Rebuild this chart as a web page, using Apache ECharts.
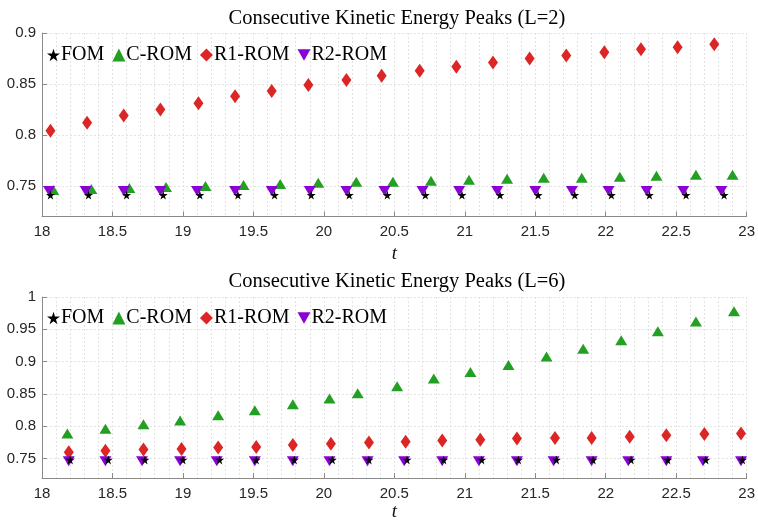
<!DOCTYPE html>
<html>
<head>
<meta charset="utf-8">
<script src="https://cdn.jsdelivr.net/npm/echarts@6/dist/echarts.min.js"></script>
<style>html,body{margin:0;padding:0;background:#fff;}#c{width:758px;height:525px;}</style>
</head>
<body>
<div id="c"></div>
<script>
// ---------- data ----------
const seriesNames = ['FOM', 'C-ROM', 'R1-ROM', 'R2-ROM'];
const xTickLabels = [18, 18.5, 19, 19.5, 20, 20.5, 21, 21.5, 22, 22.5, 23];
const yTicksTop = [0.75, 0.8, 0.85, 0.9];
const yTicksBottom = [0.75, 0.8, 0.85, 0.9, 0.95, 1];

// Top plot (L=2)
const fomTopX = [18.06, 18.33, 18.60, 18.86, 19.12, 19.39, 19.65, 19.91, 20.18, 20.45, 20.72, 20.98, 21.25, 21.52, 21.78, 22.04, 22.31, 22.57, 22.84];
const fomTopY = [0.741, 0.741, 0.741, 0.741, 0.741, 0.741, 0.741, 0.741, 0.741, 0.741, 0.741, 0.741, 0.741, 0.741, 0.741, 0.741, 0.741, 0.741, 0.741];
const cTopX = [18.08, 18.35, 18.62, 18.88, 19.16, 19.43, 19.69, 19.96, 20.23, 20.49, 20.76, 21.03, 21.30, 21.56, 21.83, 22.10, 22.36, 22.64, 22.90];
const cTopY = [0.746, 0.747, 0.748, 0.749, 0.750, 0.751, 0.752, 0.753, 0.754, 0.754, 0.755, 0.756, 0.757, 0.758, 0.758, 0.759, 0.760, 0.761, 0.761];
const r1TopX = [18.06, 18.32, 18.58, 18.84, 19.11, 19.37, 19.63, 19.89, 20.16, 20.41, 20.68, 20.94, 21.20, 21.46, 21.72, 21.99, 22.25, 22.51, 22.77];
const r1TopY = [0.804, 0.812, 0.819, 0.825, 0.831, 0.838, 0.843, 0.849, 0.854, 0.858, 0.863, 0.867, 0.871, 0.875, 0.878, 0.881, 0.884, 0.886, 0.889];
const r2TopX = [18.05, 18.31, 18.58, 18.84, 19.10, 19.37, 19.63, 19.90, 20.16, 20.43, 20.70, 20.96, 21.23, 21.50, 21.76, 22.02, 22.29, 22.55, 22.82];
const r2TopY = [0.745, 0.745, 0.745, 0.745, 0.745, 0.745, 0.745, 0.745, 0.745, 0.745, 0.745, 0.745, 0.745, 0.745, 0.745, 0.745, 0.745, 0.745, 0.745];

// Bottom plot (L=6)
const fomBotX = [18.20, 18.47, 18.73, 19.00, 19.26, 19.52, 19.79, 20.06, 20.32, 20.59, 20.85, 21.12, 21.38, 21.65, 21.91, 22.18, 22.44, 22.71, 22.97];
const fomBotY = [0.748, 0.748, 0.748, 0.748, 0.748, 0.748, 0.748, 0.748, 0.748, 0.748, 0.748, 0.748, 0.748, 0.748, 0.748, 0.748, 0.748, 0.748, 0.748];
const cBotX = [18.18, 18.45, 18.72, 18.98, 19.25, 19.51, 19.78, 20.04, 20.24, 20.52, 20.78, 21.04, 21.31, 21.58, 21.84, 22.11, 22.37, 22.64, 22.91];
const cBotY = [0.789, 0.796, 0.803, 0.809, 0.817, 0.825, 0.834, 0.843, 0.851, 0.862, 0.874, 0.884, 0.895, 0.908, 0.920, 0.933, 0.947, 0.962, 0.978];
const r1BotX = [18.19, 18.45, 18.72, 18.99, 19.25, 19.52, 19.78, 20.05, 20.32, 20.58, 20.84, 21.11, 21.37, 21.64, 21.90, 22.17, 22.43, 22.70, 22.96];
const r1BotY = [0.760, 0.762, 0.764, 0.765, 0.767, 0.768, 0.771, 0.773, 0.775, 0.776, 0.778, 0.779, 0.781, 0.782, 0.782, 0.784, 0.786, 0.788, 0.789];
const r2BotX = [18.19, 18.45, 18.71, 18.98, 19.24, 19.51, 19.78, 20.04, 20.31, 20.57, 20.84, 21.10, 21.37, 21.63, 21.90, 22.16, 22.43, 22.69, 22.96];
const r2BotY = [0.746, 0.746, 0.746, 0.746, 0.746, 0.746, 0.746, 0.746, 0.746, 0.746, 0.746, 0.746, 0.746, 0.746, 0.746, 0.746, 0.746, 0.746, 0.746];

// ---------- styling ----------
const STAR = 'path://M50,0 L61,35 L98,35 L68,57 L79,91 L50,70 L21,91 L32,57 L2,35 L39,35 Z';
const DOWN_TRI = 'path://M0,0 L20,0 L10,18 Z';
const colors = { 'FOM': '#000000', 'C-ROM': '#23a023', 'R1-ROM': '#dc2525', 'R2-ROM': '#8a00d6' };
const zip = (xs, ys) => xs.map((x, i) => [x, ys[i]]);
const serif = 'Liberation Serif, Times New Roman, serif';
const sans = 'Liberation Sans, Arial, sans-serif';
const gridCol = '#e3e3e3';
const axisCol = '#8a8a8a';

function xAxisCfg(gridIndex, nameGap) {
  return {
    type: 'value', gridIndex, min: 18, max: 23, interval: 0.5,
    name: 't', nameLocation: 'middle', nameGap,
    nameTextStyle: { fontFamily: serif, fontStyle: 'italic', fontSize: 19, color: '#111' },
    axisLine: { show: true, onZero: false, lineStyle: { color: axisCol, width: 1 } },
    axisTick: { show: true, inside: true, length: 5, lineStyle: { color: axisCol } },
    axisLabel: { fontFamily: sans, fontSize: 15, color: '#262626', margin: 8,
      customValues: xTickLabels, formatter: v => String(+v.toFixed(2)) },
    splitLine: { show: true, lineStyle: { color: gridCol, type: [2, 2], width: 1 } },
    minorTick: { show: false, splitNumber: 5 },
    minorSplitLine: { show: true, lineStyle: { color: gridCol, type: [2, 2], width: 1 } }
  };
}
function yAxisCfg(gridIndex, max, ticks) {
  return {
    type: 'value', gridIndex, min: 0.72, max, interval: 0.01,
    axisLine: { show: true, onZero: false, lineStyle: { color: axisCol, width: 1 } },
    axisTick: { show: true, inside: true, length: 5, lineStyle: { color: axisCol }, customValues: ticks },
    axisLabel: { fontFamily: sans, fontSize: 15, color: '#262626', margin: 6,
      customValues: ticks, formatter: v => String(+v.toFixed(2)) },
    splitLine: { show: true, lineStyle: { color: gridCol, type: [2, 2], width: 1 } }
  };
}
function makeSeries(idx, name, xs, ys) {
  const base = { type: 'scatter', name, xAxisIndex: idx, yAxisIndex: idx, data: zip(xs, ys),
    itemStyle: { color: colors[name], opacity: 1 }, emphasis: { disabled: true }, animation: false };
  if (name === 'FOM') return Object.assign(base, { symbol: STAR, symbolSize: 9, z: 5 });
  if (name === 'C-ROM') return Object.assign(base, { symbol: 'triangle', symbolSize: [12, 10], z: 2 });
  if (name === 'R1-ROM') return Object.assign(base, { symbol: 'diamond', symbolSize: [10, 14], z: 3 });
  return Object.assign(base, { symbol: DOWN_TRI, symbolSize: [12, 10], z: 4 });
}
const legendIcons = { 'FOM': STAR, 'C-ROM': 'triangle', 'R1-ROM': 'diamond', 'R2-ROM': DOWN_TRI };
function legendCfg(top) {
  return {
    left: 42, top, orient: 'horizontal', itemGap: 8, itemWidth: 13, itemHeight: 13,
    textStyle: { fontFamily: serif, fontSize: 20, color: '#000', padding: [0, 0, 0, -4] },
    data: seriesNames.map(n => ({ name: n, icon: legendIcons[n],
      itemStyle: { color: colors[n] } })),
    selectedMode: false
  };
}

const chart = echarts.init(document.getElementById('c'), null, { renderer: 'canvas' });
chart.setOption({
  animation: false,
  backgroundColor: '#ffffff',
  title: [
    { text: 'Consecutive Kinetic Energy Peaks (L=2)', left: 392, top: 3, textAlign: 'center',
      textStyle: { fontFamily: serif, fontSize: 20.5, fontWeight: 'normal', color: '#000' } },
    { text: 'Consecutive Kinetic Energy Peaks (L=6)', left: 392, top: 266, textAlign: 'center',
      textStyle: { fontFamily: serif, fontSize: 20.5, fontWeight: 'normal', color: '#000' } }
  ],
  legend: [legendCfg(40), legendCfg(303)],
  grid: [
    { left: 42, right: 11, top: 33, height: 183.5, containLabel: false },
    { left: 42, right: 11, top: 297, height: 181, containLabel: false }
  ],
  xAxis: [xAxisCfg(0, 28), xAxisCfg(1, 24)],
  yAxis: [yAxisCfg(0, 0.9, yTicksTop), yAxisCfg(1, 1, yTicksBottom)],
  series: [
    makeSeries(0, 'FOM', fomTopX, fomTopY),
    makeSeries(0, 'C-ROM', cTopX, cTopY),
    makeSeries(0, 'R1-ROM', r1TopX, r1TopY),
    makeSeries(0, 'R2-ROM', r2TopX, r2TopY),
    makeSeries(1, 'FOM', fomBotX, fomBotY),
    makeSeries(1, 'C-ROM', cBotX, cBotY),
    makeSeries(1, 'R1-ROM', r1BotX, r1BotY),
    makeSeries(1, 'R2-ROM', r2BotX, r2BotY)
  ]
});
</script>
</body>
</html>
